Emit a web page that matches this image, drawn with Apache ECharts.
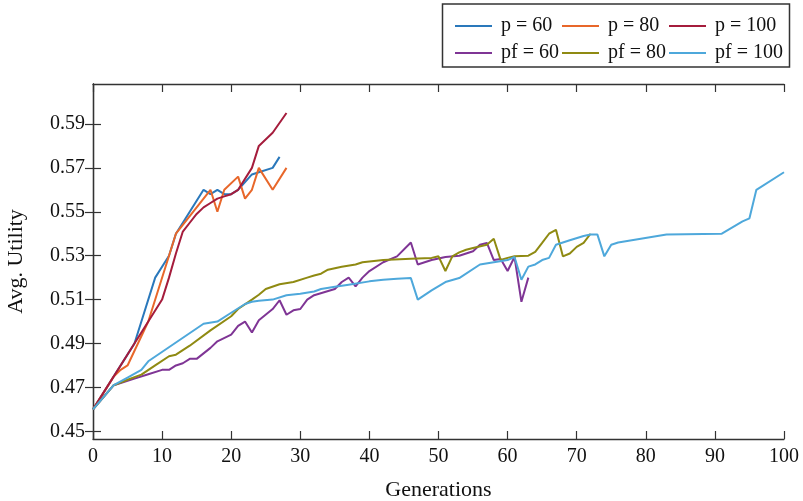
<!DOCTYPE html>
<html>
<head>
<meta charset="utf-8">
<script src="https://cdn.jsdelivr.net/npm/echarts@6/dist/echarts.min.js"></script>
<style>html,body{margin:0;padding:0;background:#fff;}#c{width:803px;height:501px;}</style>
</head>
<body>
<div id="c"></div>
<script>
const seriesNames = ['p = 60', 'p = 80', 'p = 100', 'pf = 60', 'pf = 80', 'pf = 100'];
const xTicks = [0, 10, 20, 30, 40, 50, 60, 70, 80, 90, 100];
const yTicks = [0.45, 0.47, 0.49, 0.51, 0.53, 0.55, 0.57, 0.59];

const p60 = [[0,0.46],[6,0.49],[9,0.52],[11,0.53],[12,0.54],[16,0.56],[17,0.558],[18,0.56],[19,0.558],[20,0.558],[21,0.56],[23,0.567],[24,0.568],[26,0.57],[27,0.575]];
const p80 = [[0,0.46],[3,0.475],[4,0.478],[5,0.48],[8,0.5],[11,0.53],[12,0.54],[17,0.56],[18,0.55],[19,0.56],[21,0.566],[22,0.556],[23,0.56],[24,0.57],[26,0.56],[28,0.57]];
const p100 = [[0,0.46],[8,0.5],[10,0.51],[11,0.52],[12,0.531],[13,0.541],[14,0.545],[15,0.549],[16,0.552],[17,0.554],[18,0.556],[19,0.557],[20,0.558],[21,0.56],[23,0.57],[24,0.58],[26,0.586],[28,0.595]];
const pf60 = [[0,0.46],[3,0.471],[4,0.472],[6,0.474],[8,0.476],[10,0.478],[11,0.478],[12,0.48],[13,0.481],[14,0.483],[15,0.483],[17,0.488],[18,0.491],[20,0.494],[21,0.498],[22,0.5],[23,0.495],[24,0.5006],[26,0.5057],[27,0.5097],[28,0.5031],[29,0.5051],[30,0.5057],[31,0.51],[32,0.512],[35,0.5148],[36,0.518],[37,0.52],[38,0.516],[39,0.52],[40,0.523],[42,0.527],[44,0.5297],[46,0.536],[47,0.526],[49,0.528],[51,0.5294],[53,0.53],[55,0.532],[56,0.535],[57,0.5358],[58,0.528],[59,0.5285],[60,0.523],[61,0.5294],[62,0.509],[63,0.52]];
const pf80 = [[0,0.46],[3,0.471],[5,0.4735],[7,0.4758],[9,0.48],[11,0.4842],[12,0.4849],[13,0.487],[14,0.489],[17,0.496],[20,0.5024],[21,0.5057],[23,0.51],[24,0.5122],[25,0.5148],[27,0.517],[29,0.518],[31,0.52],[32,0.521],[33,0.5218],[34,0.5236],[36,0.525],[38,0.526],[39,0.527],[42,0.528],[46,0.5286],[49,0.529],[50,0.5297],[51,0.523],[52,0.5297],[53,0.5315],[54,0.5327],[55,0.5335],[57,0.535],[58,0.5377],[59,0.528],[60,0.529],[61,0.5297],[63,0.53],[64,0.5317],[65,0.5358],[66,0.54],[67,0.5418],[68,0.5297],[69,0.531],[70,0.534],[71,0.5358],[72,0.54]];
const pf100 = [[0,0.46],[3,0.471],[5,0.4745],[7,0.478],[8,0.4819],[16,0.499],[18,0.5],[20,0.504],[22,0.508],[23,0.509],[24,0.5095],[26,0.51],[28,0.512],[30,0.5127],[32,0.5137],[33,0.5148],[35,0.5158],[37,0.5168],[40,0.5183],[42,0.519],[44,0.5195],[46,0.5198],[47,0.51],[49,0.5142],[51,0.518],[53,0.5198],[56,0.526],[58,0.527],[60,0.528],[61,0.5294],[62,0.519],[63,0.525],[64,0.526],[65,0.528],[66,0.529],[67,0.535],[69,0.537],[71,0.539],[72,0.5396],[73,0.5396],[74,0.5297],[75,0.535],[76,0.536],[83,0.5396],[91,0.54],[94,0.5456],[95,0.547],[96,0.56],[100,0.568]];

const colors = ['#2a78bb', '#e8672a', '#a51c3c', '#7f3595', '#8f8a12', '#4ea8db'];
const allData = [p60, p80, p100, pf60, pf80, pf100];

const FONT = 'Liberation Serif';
const axisColor = '#333';
const chart = echarts.init(document.getElementById('c'), null, {renderer: 'canvas'});

const yMin = 0.4465, yMax = 0.6082;

chart.setOption({
  animation: false,
  backgroundColor: '#fff',
  color: colors,
  grid: {left: 93, right: 19, top: 84, bottom: 62, containLabel: false, outerBoundsMode: 'none'},
  legend: [
    {data: seriesNames.slice(0,3), left: 450, top: 10, orient: 'horizontal', icon: 'rect', itemWidth: 37, itemHeight: 2, itemGap: 0,
     textStyle: {fontFamily: FONT, fontSize: 20, color: '#111', width: 61, lineHeight: 22, padding: [0,0,0,4]}},
    {data: seriesNames.slice(3), left: 450, top: 37, orient: 'horizontal', icon: 'rect', itemWidth: 37, itemHeight: 2, itemGap: 0,
     textStyle: {fontFamily: FONT, fontSize: 20, color: '#111', width: 61, lineHeight: 22, padding: [0,0,0,4]}}
  ],
  graphic: [{type: 'rect', shape: {x: 442.5, y: 4, width: 347, height: 63}, style: {fill: 'none', stroke: '#333', lineWidth: 1.5}, silent: true}],
  xAxis: [
    {type: 'value', min: 0, max: 100, interval: 10, position: 'bottom',
     name: 'Generations', nameLocation: 'middle', nameGap: 40,
     nameTextStyle: {fontFamily: FONT, fontSize: 22, color: '#111'},
     axisLine: {show: true, lineStyle: {color: axisColor, width: 1.3}},
     axisTick: {show: true, inside: true, length: 8, lineStyle: {color: axisColor, width: 1.2}, customValues: xTicks},
     axisLabel: {fontFamily: FONT, fontSize: 20, color: '#111', margin: 8, customValues: xTicks},
     splitLine: {show: false}},
    {type: 'value', min: 0, max: 100, interval: 10, position: 'top',
     axisLine: {show: true, lineStyle: {color: axisColor, width: 1.3}},
     axisTick: {show: true, inside: true, length: 8, lineStyle: {color: axisColor, width: 1.2}, customValues: xTicks},
     axisLabel: {show: false}, splitLine: {show: false}}
  ],
  yAxis: [
    {type: 'value', min: yMin, max: yMax, position: 'left',
     name: 'Avg. Utility', nameLocation: 'middle', nameGap: 66, nameRotate: 90,
     nameTextStyle: {fontFamily: FONT, fontSize: 22, color: '#111'},
     axisLine: {show: true, lineStyle: {color: axisColor, width: 1.3}},
     axisTick: {show: true, inside: true, length: 8, lineStyle: {color: axisColor, width: 1.2}, customValues: yTicks},
     axisLabel: {fontFamily: FONT, fontSize: 20, color: '#111', margin: 8, customValues: yTicks, formatter: v => v.toFixed(2)},
     splitLine: {show: false}},
    {type: 'value', min: yMin, max: yMax, position: 'right',
     axisLine: {show: true, lineStyle: {color: axisColor, width: 1.3}},
     axisTick: {show: true, inside: true, length: 8, lineStyle: {color: axisColor, width: 1.2}, customValues: yTicks},
     axisLabel: {show: false}, splitLine: {show: false}}
  ],
  series: seriesNames.map((n, i) => ({
    name: n, type: 'line', data: allData[i], xAxisIndex: 0, yAxisIndex: 0,
    showSymbol: false, symbol: 'none', lineStyle: {width: 2, color: colors[i]}, itemStyle: {color: colors[i]}
  }))
});
</script>
</body>
</html>
